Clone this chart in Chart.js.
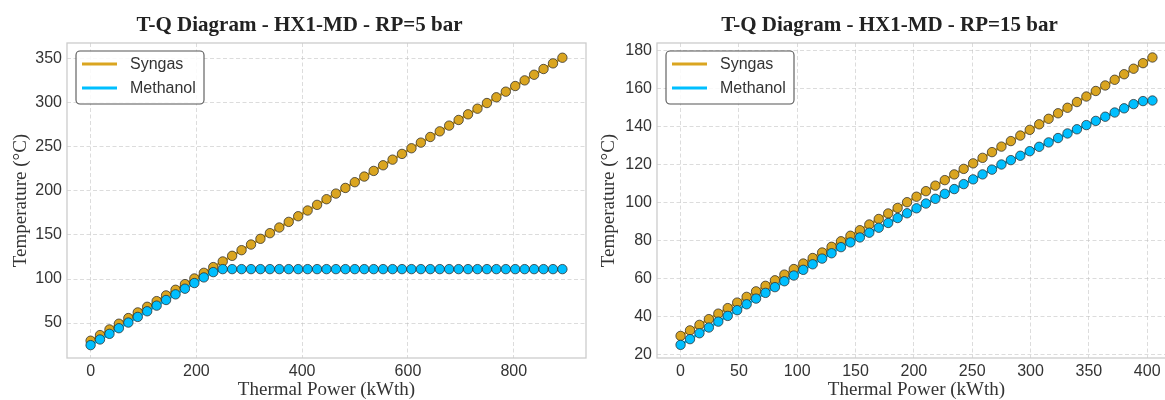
<!DOCTYPE html>
<html>
<head>
<meta charset="utf-8">
<script src="https://cdn.jsdelivr.net/npm/chart.js@4.4.1/dist/chart.umd.min.js"></script>
<style>
  html, body { margin: 0; padding: 0; background: #ffffff; overflow: hidden; width: 1165px; height: 400px; }
  #wrap { position: relative; width: 1165px; height: 400px; overflow: hidden; }
  canvas { position: absolute; top: 0; }
  #c1 { left: 0px; }
  #c2 { left: 590px; }
</style>
</head>
<body>
<div id="wrap">
  <canvas id="c1" width="600" height="400"></canvas>
  <canvas id="c2" width="600" height="400"></canvas>
</div>
<script>
// ---------------- DATA ----------------
const seriesNames = ['Syngas', 'Methanol'];
const seriesColors = ['#DAA520', '#00BFFF'];

// Left chart: RP = 5 bar
const titleLeft = 'T-Q Diagram - HX1-MD - RP=5 bar';
const powerLeft = [0, 17.8, 35.7, 53.5, 71.4, 89.2, 107.0, 124.9, 142.7, 160.6, 178.4, 196.2, 214.1, 231.9, 249.8, 267.6, 285.4, 303.3, 321.1, 339.0, 356.8, 374.6, 392.5, 410.3, 428.2, 446.0, 463.8, 481.7, 499.5, 517.4, 535.2, 553.0, 570.9, 588.7, 606.6, 624.4, 642.2, 660.1, 677.9, 695.8, 713.6, 731.4, 749.3, 767.1, 785.0, 802.8, 820.6, 838.5, 856.3, 874.2, 892.0];
const syngasLeft = [30.0, 36.4, 42.8, 49.3, 55.7, 62.1, 68.5, 74.9, 81.4, 87.8, 94.2, 100.6, 107.0, 113.5, 119.9, 126.3, 132.7, 139.1, 145.6, 152.0, 158.4, 164.8, 171.2, 177.7, 184.1, 190.5, 196.9, 203.3, 209.8, 216.2, 222.6, 229.0, 235.4, 241.9, 248.3, 254.7, 261.1, 267.5, 274.0, 280.4, 286.8, 293.2, 299.6, 306.1, 312.5, 318.9, 325.3, 331.7, 338.2, 344.6, 351.0];
const methanolLeft = [25.0, 31.4, 37.8, 44.2, 50.6, 57.0, 63.4, 69.8, 76.2, 82.6, 89.0, 95.4, 101.8, 107.8, 111.2, 111.2, 111.2, 111.2, 111.2, 111.2, 111.2, 111.2, 111.2, 111.2, 111.2, 111.2, 111.2, 111.2, 111.2, 111.2, 111.2, 111.2, 111.2, 111.2, 111.2, 111.2, 111.2, 111.2, 111.2, 111.2, 111.2, 111.2, 111.2, 111.2, 111.2, 111.2, 111.2, 111.2, 111.2, 111.2, 111.2];
const xTicksLeft = [0, 200, 400, 600, 800];
const yTicksLeft = [50, 100, 150, 200, 250, 300, 350];

// Right chart: RP = 15 bar
const titleRight = 'T-Q Diagram - HX1-MD - RP=15 bar';
const powerRight = [0, 8.09, 16.18, 24.27, 32.36, 40.45, 48.54, 56.63, 64.72, 72.81, 80.9, 88.99, 97.08, 105.17, 113.26, 121.35, 129.44, 137.53, 145.62, 153.71, 161.8, 169.89, 177.98, 186.07, 194.16, 202.25, 210.34, 218.43, 226.52, 234.61, 242.7, 250.79, 258.88, 266.97, 275.06, 283.15, 291.24, 299.33, 307.42, 315.51, 323.6, 331.69, 339.78, 347.87, 355.96, 364.05, 372.14, 380.23, 388.32, 396.41, 404.5];
const syngasRight = [30.0, 32.9, 35.8, 38.8, 41.7, 44.6, 47.5, 50.5, 53.4, 56.3, 59.2, 62.2, 65.1, 68.0, 70.9, 73.8, 76.8, 79.7, 82.6, 85.5, 88.5, 91.4, 94.3, 97.2, 100.2, 103.1, 106.0, 108.9, 111.8, 114.8, 117.7, 120.6, 123.5, 126.5, 129.4, 132.3, 135.2, 138.2, 141.1, 144.0, 146.9, 149.8, 152.8, 155.7, 158.6, 161.5, 164.5, 167.4, 170.3, 173.2, 176.2];
const methanolRight = [25.3, 28.3, 31.4, 34.4, 37.5, 40.5, 43.5, 46.6, 49.6, 52.6, 55.6, 58.7, 61.7, 64.7, 67.6, 70.6, 73.4, 76.6, 79.1, 81.7, 84.2, 86.8, 89.3, 91.9, 94.4, 97.0, 99.5, 102.0, 104.6, 107.1, 109.7, 112.2, 114.8, 117.3, 120.0, 122.3, 124.6, 127.0, 129.3, 131.6, 133.9, 136.3, 138.5, 140.7, 142.9, 145.1, 147.3, 149.5, 151.7, 153.3, 153.6];
const xTicksRight = [0, 50, 100, 150, 200, 250, 300, 350, 400];
const yTicksRight = [20, 40, 60, 80, 100, 120, 140, 160, 180];

const xAxisLabel = 'Thermal Power (kWth)';
const yAxisLabel = 'Temperature (°C)';

// ---------------- DRAWING ----------------
const decoPlugin = {
  id: 'deco',
  beforeDatasetsDraw(chart) {
    const {ctx, chartArea: a} = chart;
    ctx.save();
    ctx.strokeStyle = '#cccccc';
    ctx.lineWidth = 1.3;
    ctx.strokeRect(a.left, a.top, a.right - a.left, a.bottom - a.top);
    ctx.restore();
  },
  afterDraw(chart, args, opts) {
    const {ctx, chartArea: a} = chart;
    ctx.save();
    // title
    ctx.font = 'bold 21px "Liberation Serif", "Times New Roman", serif';
    ctx.fillStyle = '#222222';
    ctx.textAlign = 'center';
    ctx.textBaseline = 'alphabetic';
    ctx.fillText(opts.title, (a.left + a.right) / 2 + opts.titleShift, 31);
    // legend
    const lx = a.left + 9, ly = a.top + 8, lw = 128, lh = 53, r = 4;
    ctx.beginPath();
    ctx.moveTo(lx + r, ly);
    ctx.lineTo(lx + lw - r, ly);
    ctx.arcTo(lx + lw, ly, lx + lw, ly + r, r);
    ctx.lineTo(lx + lw, ly + lh - r);
    ctx.arcTo(lx + lw, ly + lh, lx + lw - r, ly + lh, r);
    ctx.lineTo(lx + r, ly + lh);
    ctx.arcTo(lx, ly + lh, lx, ly + lh - r, r);
    ctx.lineTo(lx, ly + r);
    ctx.arcTo(lx, ly, lx + r, ly, r);
    ctx.closePath();
    ctx.fillStyle = 'rgba(255,255,255,0.85)';
    ctx.fill();
    ctx.strokeStyle = '#555555';
    ctx.lineWidth = 1.1;
    ctx.stroke();
    ctx.font = '16px "Liberation Sans", Arial, sans-serif';
    ctx.textAlign = 'left';
    ctx.textBaseline = 'middle';
    const items = chart.data.datasets.slice().sort((p, q) => p.legendIndex - q.legendIndex);
    items.forEach((ds, i) => {
      const yy = ly + 13 + i * 24;
      ctx.strokeStyle = ds.borderColor;
      ctx.lineWidth = 2.8;
      ctx.beginPath();
      ctx.moveTo(lx + 6, yy);
      ctx.lineTo(lx + 41, yy);
      ctx.stroke();
      ctx.fillStyle = '#333333';
      ctx.fillText(ds.label, lx + 54, yy + 1);
    });
    ctx.restore();
  }
};

function makeDataset(name, color, xs, ys, order, legendIndex) {
  return {
    label: name,
    legendIndex: legendIndex,
    data: xs.map((x, i) => ({x: x, y: ys[i]})),
    borderColor: color,
    backgroundColor: color,
    borderWidth: 2.7,
    pointRadius: 4.7,
    pointBorderWidth: 0.9,
    pointBorderColor: 'rgba(45,45,45,0.85)',
    pointBackgroundColor: color,
    tension: 0,
    order: order
  };
}

function buildChart(id, cfg) {
  const tickFont = {family: '"Liberation Sans", Arial, sans-serif', size: 16};
  const titleFont = {family: '"Liberation Serif", "Times New Roman", serif', size: 19, lineHeight: 1};
  const gridCfg = {color: 'rgba(190,190,190,0.6)', lineWidth: 0.9, drawTicks: false};
  return new Chart(document.getElementById(id), {
    type: 'line',
    data: {
      datasets: [
        makeDataset(seriesNames[0], seriesColors[0], cfg.xs, cfg.syngas, 1, 0),
        makeDataset(seriesNames[1], seriesColors[1], cfg.xs, cfg.methanol, 0, 1)
      ]
    },
    options: {
      responsive: false,
      animation: false,
      devicePixelRatio: 1,
      layout: {padding: {left: 0, top: 43, right: 14, bottom: 0}},
      plugins: {
        legend: {display: false},
        tooltip: {enabled: false},
        title: {display: false},
        deco: {title: cfg.title, titleShift: -27}
      },
      scales: {
        x: {
          type: 'linear',
          min: cfg.xmin, max: cfg.xmax,
          grid: gridCfg,
          border: {display: false, dash: [4, 2.5]},
          ticks: {font: tickFont, color: '#333333', padding: 4, maxRotation: 0},
          afterBuildTicks: (s) => { s.ticks = cfg.xTicks.map(v => ({value: v})); },
          afterFit: (s) => { s.height = 42; },
          title: {display: true, text: xAxisLabel, font: titleFont, color: '#333333', padding: {top: 0, bottom: 0.5}}
        },
        y: {
          type: 'linear',
          min: cfg.ymin, max: cfg.ymax,
          grid: gridCfg,
          border: {display: false, dash: [4, 2.5]},
          ticks: {font: tickFont, color: '#333333', padding: 5},
          afterBuildTicks: (s) => { s.ticks = cfg.yTicks.map(v => ({value: v})); },
          afterFit: (s) => { s.width = 67; },
          title: {display: true, text: yAxisLabel, font: titleFont, color: '#333333', padding: {top: cfg.yTitlePad, bottom: 0}}
        }
      }
    },
    plugins: [decoPlugin]
  });
}

buildChart('c1', {
  title: titleLeft, xs: powerLeft, syngas: syngasLeft, methanol: methanolLeft,
  xmin: -44.6, xmax: 936.6, ymin: 10.4, ymax: 367.7,
  xTicks: xTicksLeft, yTicks: yTicksLeft, yTitlePad: 11.5
});
buildChart('c2', {
  title: titleRight, xs: powerRight, syngas: syngasRight, methanol: methanolRight,
  xmin: -20.2, xmax: 424.7, ymin: 18.4, ymax: 183.8,
  xTicks: xTicksRight, yTicks: yTicksRight, yTitlePad: 9.5
});
</script>
</body>
</html>
